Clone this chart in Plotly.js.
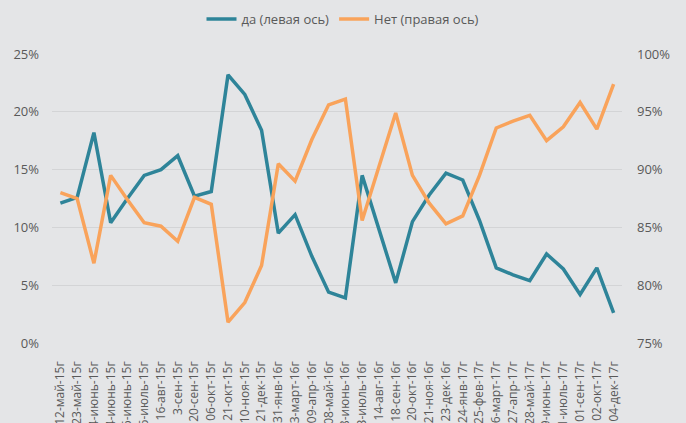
<!DOCTYPE html>
<html>
<head>
<meta charset="utf-8">
<script src="https://cdn.plot.ly/plotly-3.0.1.min.js"></script>
<style>html,body{margin:0;padding:0;background:#E4E5E7;}#chart{width:686px;height:423px;}</style>
</head>
<body>
<div id="chart"></div>
<script>
const dates = ['12-май-15г','23-май-15г','04-июнь-15г','24-июнь-15г','26-июнь-15г','16-июль-15г','16-авг-15г','3-сен-15г','20-сен-15г','06-окт-15г','21-окт-15г','10-ноя-15г','21-дек-15г','31-янв-16г','03-март-16г','09-апр-16г','08-май-16г','28-июнь-16г','13-июль-16г','14-авг-16г','18-сен-16г','20-окт-16г','21-ноя-16г','23-дек-16г','24-янв-17г','25-фев-17г','26-март-17г','27-апр-17г','28-май-17г','29-июнь-17г','31-июль-17г','01-сен-17г','02-окт-17г','04-дек-17г'];
const yesValues = [12.1,12.6,18.2,10.4,12.5,14.5,15.0,16.2,12.7,13.1,23.2,21.5,18.4,9.5,11.1,7.5,4.4,3.9,14.5,9.8,5.2,10.5,12.8,14.7,14.1,10.6,6.5,5.9,5.4,7.7,6.4,4.2,6.5,2.6];
const noValues = [88.0,87.5,81.9,89.5,87.4,85.4,85.1,83.8,87.6,87.0,76.8,78.5,81.7,90.5,89.0,92.6,95.6,96.1,85.6,90.2,94.9,89.5,87.1,85.3,86.0,89.5,93.6,94.2,94.7,92.5,93.7,95.8,93.5,97.4];
const yesName = 'да (левая ось)';
const noName = 'Нет (правая ось)';

const fam = '"Open Sans", sans-serif';
const traces = [
  {x: dates, y: yesValues, name: yesName, type: 'scatter', mode: 'lines', yaxis: 'y',
   line: {color: '#2E8499', width: 3.5}},
  {x: dates, y: noValues, name: noName, type: 'scatter', mode: 'lines', yaxis: 'y2',
   line: {color: '#F9A35B', width: 3.5}}
];
const layout = {
  width: 686, height: 423,
  margin: {l: 52, r: 64, t: 54, b: 80, pad: 0},
  paper_bgcolor: '#E4E5E7', plot_bgcolor: '#E4E5E7',
  font: {family: fam, size: 13, color: '#595959'},
  showlegend: true,
  legend: {orientation: 'h', x: 0.5, xanchor: 'center', xref: 'container', y: 0.955, yanchor: 'middle', yref: 'container',
           font: {family: fam, size: 13, color: '#595959'}, bgcolor: 'rgba(0,0,0,0)'},
  xaxis: {type: 'category', tickangle: -90, range: [-0.5, dates.length - 0.5], automargin: false,
          showgrid: false, zeroline: false, showline: false, ticks: '', ticklabelstandoff: 15,
          tickfont: {family: fam, size: 12, color: '#595959'}, fixedrange: true},
  yaxis: {range: [0, 25], dtick: 5, ticksuffix: '%', showgrid: true, gridcolor: '#D3D4D6', gridwidth: 1.3,
          zeroline: false, showline: false, ticks: '', ticklabelstandoff: 12, automargin: false,
          tickfont: {family: fam, size: 13, color: '#595959'}},
  yaxis2: {range: [75, 100], dtick: 5, ticksuffix: '%', overlaying: 'y', side: 'right', showgrid: false,
           zeroline: false, showline: false, ticks: '', ticklabelstandoff: 14, automargin: false,
           tickfont: {family: fam, size: 13, color: '#595959'}}
};
Plotly.newPlot('chart', traces, layout, {displayModeBar: false, staticPlot: true});
</script>
</body>
</html>
